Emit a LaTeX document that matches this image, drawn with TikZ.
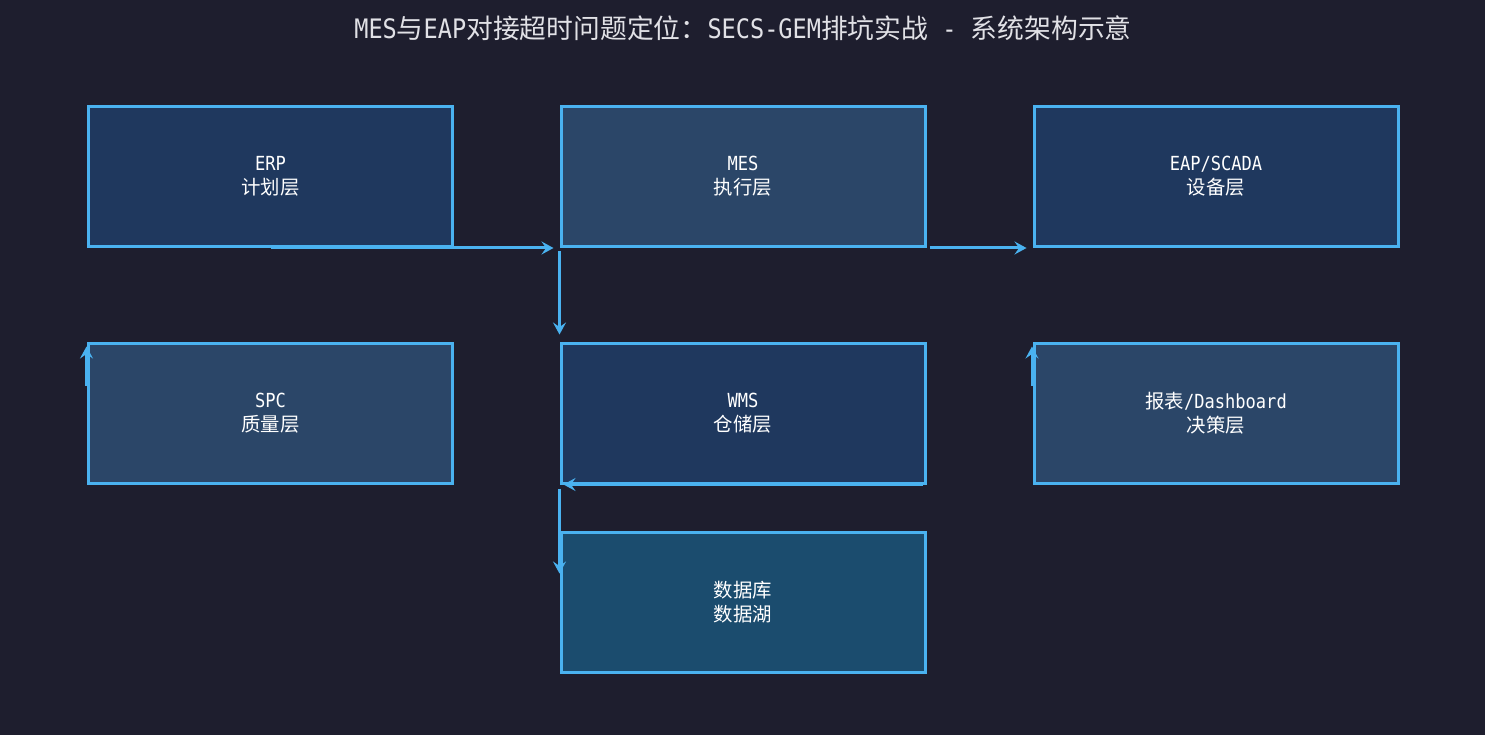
\documentclass[tikz,border=0pt]{standalone}
\usepackage{fontspec}
\setmainfont{Noto Sans CJK SC}
\newfontfamily\lat[FakeStretch=0.88]{DejaVu Sans Mono}
\usetikzlibrary{arrows.meta,calc}
\definecolor{bg}{RGB}{30,30,46}
\definecolor{edgec}{RGB}{74,178,240}
\definecolor{fillA}{RGB}{31,56,94}
\definecolor{fillB}{RGB}{43,70,104}
\definecolor{fillC}{RGB}{27,76,110}
\definecolor{titlec}{RGB}{225,225,230}
\begin{document}
\begin{tikzpicture}[x=1pt,y=-1pt,
  box/.style={draw=edgec,line width=3pt,minimum width=364pt,minimum height=140pt,
    inner sep=0pt,text=white,align=center,font=\fontsize{19.4}{24}\selectfont},
  arr/.style={draw=edgec,line width=3pt,-{Stealth[length=12pt,width=13pt,inset=4.5pt]}}]
\useasboundingbox (0,0) rectangle (1485,735);
\fill[bg] (0,0) rectangle (1485,735);
\node[text=titlec,font=\fontsize{26.8}{30}\selectfont] (title) at (743,28)
  {{\lat MES}与{\lat EAP}对接超时问题定位：{\lat SECS-GEM}排坑实战{\lat\ -\ }系统架构示意};
\node[box,fill=fillA] (erp)  at (270.5,176.5) {{\lat ERP}\\计划层};
\node[box,fill=fillB] (mes)  at (743,176.5)   {{\lat MES}\\执行层};
\node[box,fill=fillA] (eap)  at (1216,176.5)  {{\lat EAP/SCADA}\\设备层};
\node[box,fill=fillB] (spc)  at (270.5,413)   {{\lat SPC}\\质量层};
\node[box,fill=fillA] (wms)  at (743,413)     {{\lat WMS}\\仓储层};
\node[box,fill=fillB] (dash) at (1216,413)    {报表{\lat /Dashboard}\\决策层};
\node[box,fill=fillC] (db)   at (743,602)     {数据库\\数据湖};
\coordinate (spcin)  at ($(spc.north west)+(-0.5,44)$);
\coordinate (dashin) at ($(dash.north west)+(-0.5,44)$);
\coordinate (spctop) at ($(spc.north west)+(-0.5,0)$);
\coordinate (dashtop) at ($(dash.north west)+(-0.5,0)$);
\coordinate (dbin)   at ($(wms.south west)+(0,89)$);
\draw[arr,shorten >=6pt] (erp.south) -- (mes.south west);
\draw[arr,shorten <=3pt,shorten >=6pt] (mes.south east) -- (eap.south west);
\draw[arr,shorten <=3pt,shorten >=7pt] (mes.south west) -- (wms.north west);
\draw[arr,shorten >=5pt] (spcin) -- (spctop);
\draw[arr,shorten >=5pt] (dashin) -- (dashtop);
\draw[arr,shorten <=4pt,shorten >=4pt] (wms.south east) -- (wms.south west);
\draw[arr,shorten <=4pt] (wms.south west) -- (dbin);
\end{tikzpicture}
\end{document}
